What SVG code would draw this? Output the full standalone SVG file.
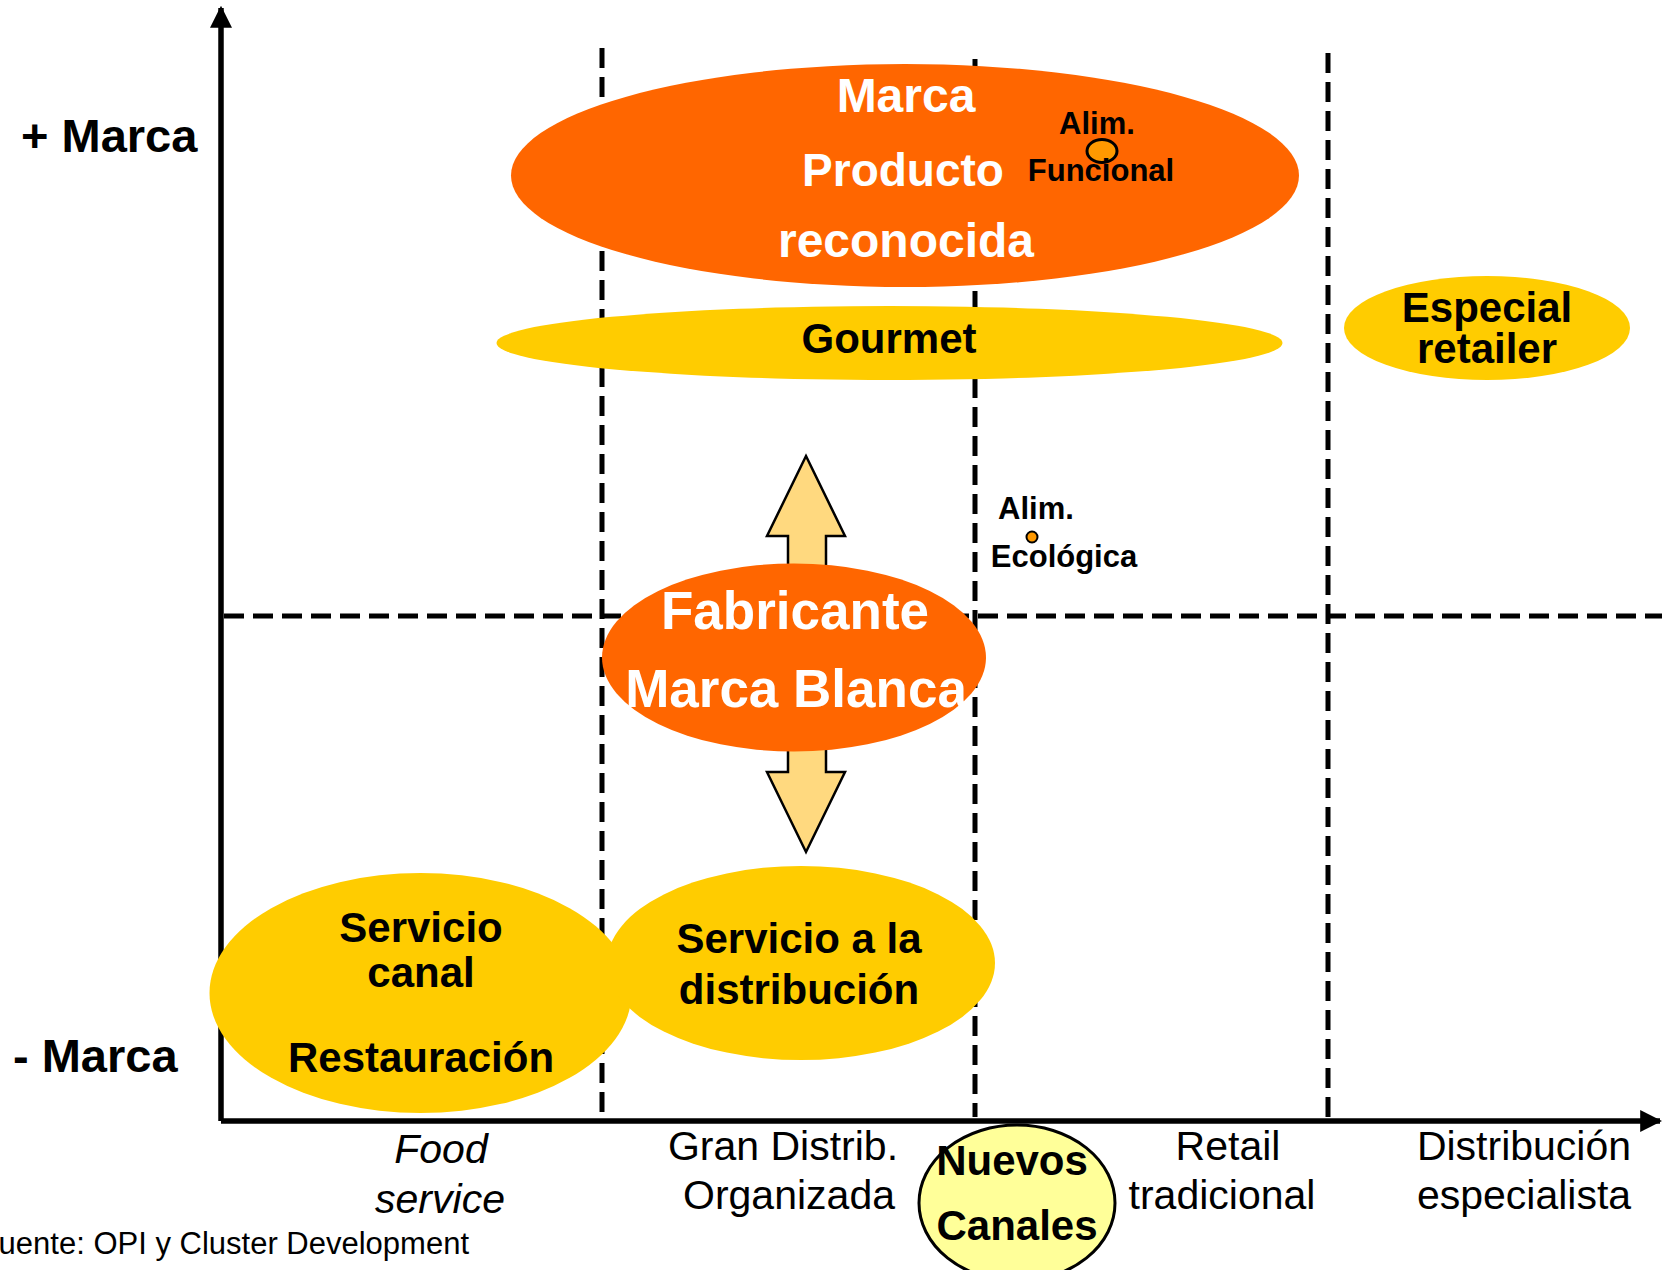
<svg xmlns="http://www.w3.org/2000/svg" width="1668" height="1270" viewBox="0 0 1668 1270">
  <style>
    .b { font-family: "Liberation Sans", Arial, sans-serif; font-weight: bold; text-anchor: middle; }
    .r { font-family: "Liberation Sans", Arial, sans-serif; text-anchor: middle; fill: #000; }
    .w { fill: #fff; }
    .k { fill: #000; }
    .grid { stroke: #000; stroke-width: 5; fill: none; stroke-dasharray: 20 9; }
    .axis { stroke: #000; stroke-width: 5.5; fill: none; }
    .orange { fill: #FF6600; }
    .yellow { fill: #FFCC00; }
  </style>
  <defs>
    <marker id="ah" viewBox="0 0 10 10" refX="9" refY="5" markerWidth="4" markerHeight="4" markerUnits="strokeWidth" orient="auto">
      <path d="M0,0 L10,5 L0,10 Z" fill="#000"/>
    </marker>
  </defs>
  <rect width="1668" height="1270" fill="#fff"/>

  <!-- quadrant grid -->
  <g id="grid">
    <line class="grid" x1="602" y1="48" x2="602" y2="1117"/>
    <line class="grid" x1="975" y1="59" x2="975" y2="1117"/>
    <line class="grid" x1="1328" y1="53" x2="1328" y2="1117"/>
    <line class="grid" x1="224" y1="616" x2="1662" y2="616"/>
  </g>

  <!-- axes -->
  <g id="connectors">
    <path class="axis" d="M221,1121 L221,8" marker-end="url(#ah)"/>
    <path class="axis" d="M221,1121 L1660,1121" marker-end="url(#ah)"/>
    <!-- double arrow between brand levels -->
    <path d="M806,456 L845,536 L826,536 L826,772 L845,772 L806,852 L767,772 L788,772 L788,536 L767,536 Z" fill="#FFD97F" stroke="#000" stroke-width="2.5" stroke-linejoin="miter"/>
  </g>

  <!-- axis labels -->
  <g id="label-plus">
    <text class="b k" x="21" y="152" style="text-anchor:start" font-size="47">+ Marca</text>
  </g>
  <g id="label-minus">
    <text class="b k" x="13" y="1072" style="text-anchor:start" font-size="47">- Marca</text>
  </g>

  <g id="marca-producto">
    <ellipse class="orange" cx="905" cy="175.5" rx="394" ry="111.5"/>
    <text class="b w" x="906" y="112" font-size="48">Marca</text>
    <text class="b w" x="903" y="186" font-size="46">Producto</text>
    <text class="b w" x="906" y="257" font-size="48">reconocida</text>
  </g>

  <g id="alim-funcional">
    <text class="b k" x="1097" y="134" font-size="31">Alim.</text>
    <ellipse cx="1102" cy="151" rx="15" ry="11.5" fill="#FF9900" stroke="#000" stroke-width="3"/>
    <text class="b k" x="1101" y="181" font-size="31">Funcional</text>
  </g>

  <g id="gourmet">
    <ellipse class="yellow" cx="889.5" cy="343" rx="393" ry="37"/>
    <text class="b k" x="889" y="353" font-size="42">Gourmet</text>
  </g>

  <g id="especial-retailer">
    <ellipse class="yellow" cx="1487" cy="328" rx="143" ry="52"/>
    <text class="b k" x="1487" y="322" font-size="42">Especial</text>
    <text class="b k" x="1487" y="363" font-size="42">retailer</text>
  </g>

  <g id="alim-ecologica">
    <text class="b k" x="1036" y="519" font-size="31">Alim.</text>
    <circle cx="1032" cy="537" r="5.5" fill="#FF9900" stroke="#000" stroke-width="2"/>
    <text class="b k" x="1064" y="567" font-size="31">Ecológica</text>
  </g>

  <g id="fabricante-marca-blanca">
    <ellipse class="orange" cx="794" cy="657.5" rx="192" ry="94"/>
    <text class="b w" x="795" y="629" font-size="53">Fabricante</text>
    <text class="b w" x="796" y="707" font-size="53">Marca Blanca</text>
  </g>

  <g id="servicio-canal">
    <ellipse class="yellow" cx="420.5" cy="993" rx="211" ry="120"/>
    <text class="b k" x="421" y="942" font-size="42">Servicio</text>
    <text class="b k" x="421" y="987" font-size="42">canal</text>
    <text class="b k" x="421" y="1072" font-size="42">Restauración</text>
  </g>

  <g id="servicio-distribucion">
    <ellipse class="yellow" cx="801" cy="963" rx="194" ry="97"/>
    <text class="b k" x="799" y="953" font-size="42">Servicio a la</text>
    <text class="b k" x="799" y="1004" font-size="42">distribución</text>
  </g>

  <g id="nuevos-canales">
    <ellipse cx="1017" cy="1203" rx="98" ry="78" fill="#FFFF99" stroke="#000" stroke-width="3"/>
    <text class="b k" x="1012" y="1175" font-size="42">Nuevos</text>
    <text class="b k" x="1017" y="1240" font-size="42">Canales</text>
  </g>

  <!-- channel labels along the horizontal axis -->
  <g id="food-service">
    <text class="r" x="441" y="1163" font-size="41" font-style="italic">Food</text>
    <text class="r" x="440" y="1213" font-size="41" font-style="italic">service</text>
  </g>
  <g id="gran-distrib">
    <text class="r" x="783" y="1160" font-size="41">Gran Distrib.</text>
    <text class="r" x="789" y="1209" font-size="41">Organizada</text>
  </g>
  <g id="retail-tradicional">
    <text class="r" x="1228" y="1160" font-size="41">Retail</text>
    <text class="r" x="1222" y="1209" font-size="41">tradicional</text>
  </g>
  <g id="distribucion-especialista">
    <text class="r" x="1524" y="1160" font-size="41">Distribución</text>
    <text class="r" x="1524" y="1209" font-size="41">especialista</text>
  </g>

  <g id="source">
    <text class="r" x="469" y="1254" font-size="31" style="text-anchor:end">Fuente: OPI y Cluster Development</text>
  </g>
</svg>
